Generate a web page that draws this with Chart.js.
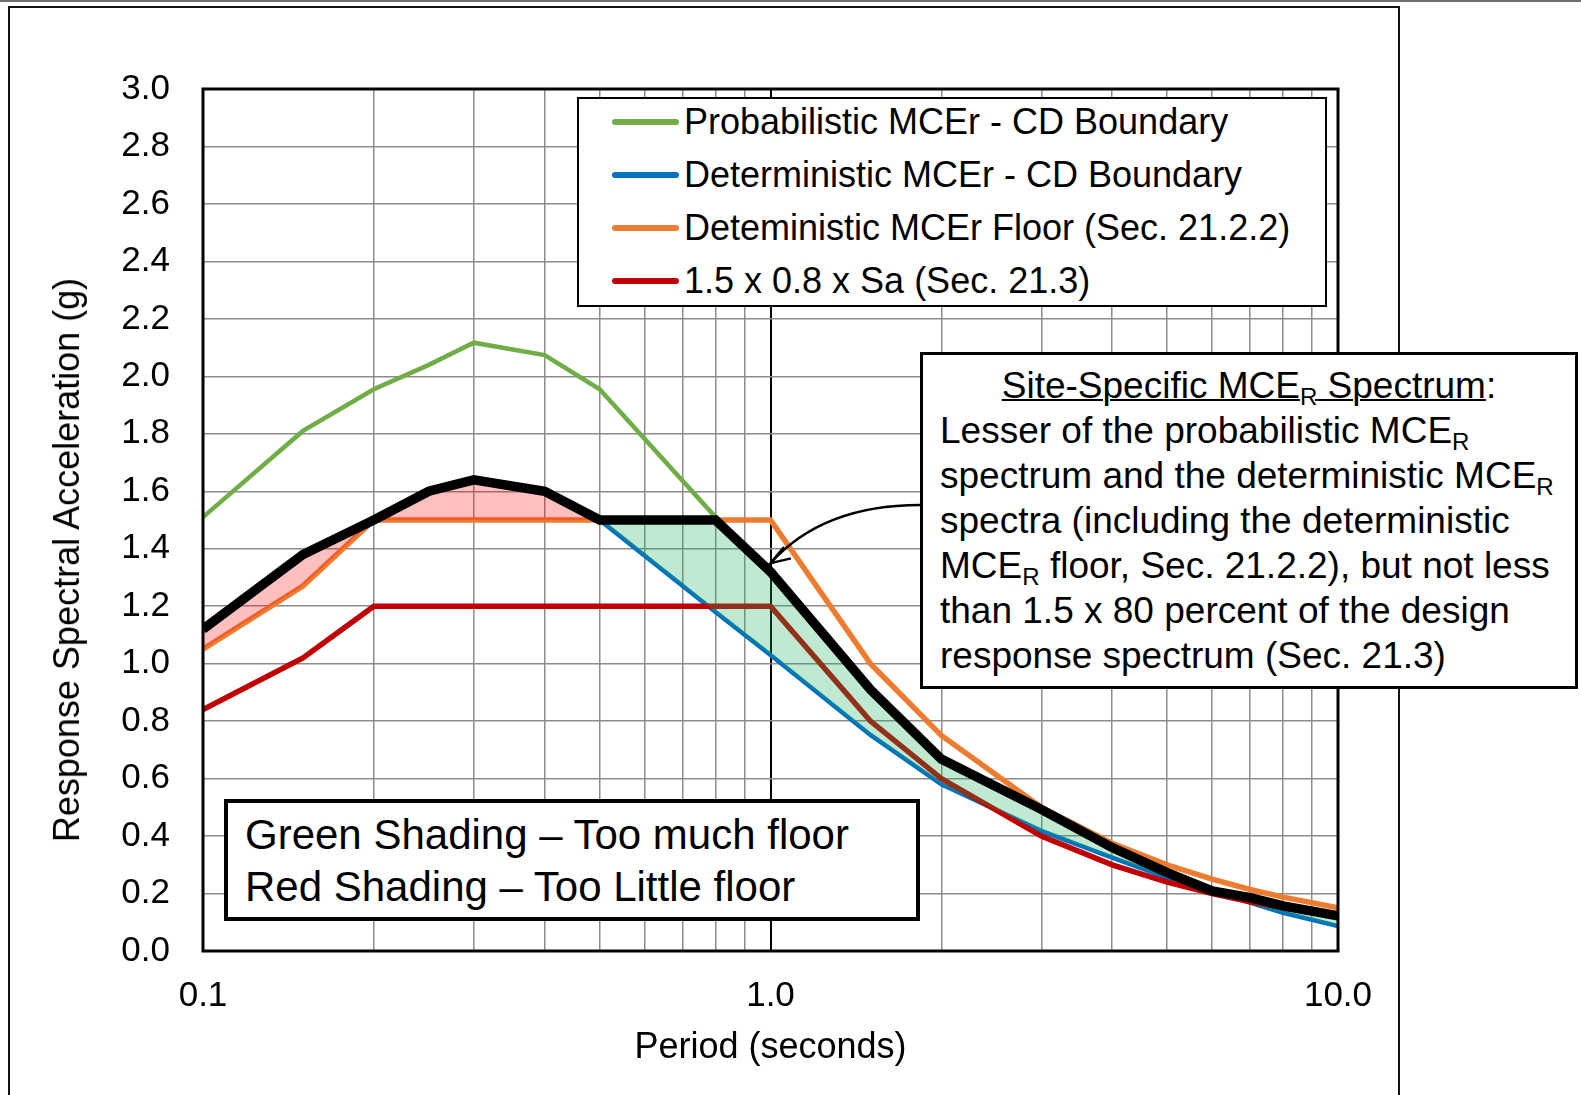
<!DOCTYPE html>
<html>
<head>
<meta charset="utf-8">
<script src="https://cdn.jsdelivr.net/npm/chart.js@4.4.1/dist/chart.umd.min.js"></script>
<style>
  body { margin: 0; background: #fff; font-family: 'Liberation Sans', Arial, sans-serif; }
  #pagina { position: relative; width: 1581px; height: 1095px; overflow: hidden; background: #fff; }
  #lineaSup { position: absolute; left: 0; top: 0; width: 1581px; height: 2px; background: #6e6e6e; }
  #marco { position: absolute; left: 8px; top: 6px; width: 1392px; height: 1200px; border: 2px solid #111; box-sizing: border-box; }
  #grafico { position: absolute; left: 0; top: 0; }
  .caja { position: absolute; background: #fff; box-sizing: border-box; color: #000; white-space: nowrap; }
  #leyenda { left: 577px; top: 97px; width: 750px; height: 210px; border: 2px solid #000; }
  .fila { position: absolute; left: 0; width: 100%; height: 40px; font-size: 36px; line-height: 40px; }
  .muestra { position: absolute; left: 33px; top: 17px; width: 67px; height: 6px; border-radius: 3px; }
  .fila .txt { position: absolute; left: 105px; }
  #nota { left: 920px; top: 352px; width: 658px; height: 337px; border: 3px solid #000;
          font-size: 37px; line-height: 45px; padding: 8px 0 0 17px; }
  #nota .titulo { text-align: center; margin-left: -17px; }
  #nota .sub { text-decoration: underline; text-decoration-thickness: 2px; }
  sub { font-size: 0.65em; vertical-align: -0.3em; line-height: 0; }
  #sombras { left: 224px; top: 799px; width: 696px; height: 122px; border: 4px solid #000;
             font-size: 42px; line-height: 52px; padding: 6px 0 0 17px; }
  #tituloY { position: absolute; left: 67px; top: 560px; font-size: 36px; white-space: nowrap;
             transform: translate(-50%, -50%) rotate(-90deg); }
</style>
</head>
<body>
<div id="pagina">
  <div id="lineaSup"></div>
  <div id="marco"></div>
  <canvas id="grafico" width="1581" height="1095"></canvas>
  <div id="tituloY">Response Spectral Acceleration (g)</div>
  <div id="leyenda" class="caja"></div>
  <div id="nota" class="caja">
    <div class="titulo"><span class="sub">Site-Specific MCE<sub>R</sub> Spectrum</span>:</div>
    <div>Lesser of the probabilistic MCE<sub>R</sub></div>
    <div>spectrum and the deterministic MCE<sub>R</sub></div>
    <div>spectra (including the deterministic</div>
    <div>MCE<sub>R</sub> floor, Sec. 21.2.2), but not less</div>
    <div>than 1.5 x 80 percent of the design</div>
    <div>response spectrum (Sec. 21.3)</div>
  </div>
  <div id="sombras" class="caja">
    <div>Green Shading – Too much floor</div>
    <div>Red Shading – Too Little floor</div>
  </div>
</div>
<script>
// periodos (s)
const periodos = [0.1, 0.15, 0.2, 0.25, 0.3, 0.4, 0.5, 0.8, 1.0, 1.5, 2, 3, 4, 5, 6, 7, 8, 10];

const probabilistico = [1.51, 1.81, 1.955, 2.04, 2.117, 2.074, 1.955, 1.51, 1.32, 0.91, 0.668, 0.493, 0.36, 0.273, 0.209, 0.186, 0.157, 0.122];
const deterministico = [1.12, 1.37, 1.50, 1.60, 1.64, 1.60, 1.50, 1.18, 1.03, 0.752, 0.58, 0.418, 0.325, 0.255, 0.21, 0.168, 0.133, 0.087];
const pisoDet = [1.05, 1.27, 1.50, 1.50, 1.50, 1.50, 1.50, 1.50, 1.50, 1.0, 0.75, 0.5, 0.375, 0.3, 0.25, 0.214, 0.1875, 0.15];
const sa120 = [0.84, 1.02, 1.20, 1.20, 1.20, 1.20, 1.20, 1.20, 1.20, 0.8, 0.6, 0.4, 0.3, 0.24, 0.2, 0.171, 0.15, 0.12];
const sitio = [1.12, 1.38, 1.50, 1.60, 1.64, 1.60, 1.50, 1.50, 1.32, 0.91, 0.668, 0.493, 0.36, 0.273, 0.209, 0.186, 0.157, 0.122];

const nombres = ['Probabilistic MCEr - CD Boundary', 'Deterministic MCEr - CD Boundary',
                 'Deteministic MCEr Floor (Sec. 21.2.2)', '1.5 x 0.8 x Sa (Sec. 21.3)'];
const colores = ['#70AD47', '#0070C0', '#ED7D31', '#C00000'];

const xTicks = [0.1, 0.2, 0.3, 0.4, 0.5, 0.6, 0.7, 0.8, 0.9, 1, 2, 3, 4, 5, 6, 7, 8, 9, 10];
const xEtiquetas = [0.1, 1, 10];
const yTicks = [0, 0.2, 0.4, 0.6, 0.8, 1.0, 1.2, 1.4, 1.6, 1.8, 2.0, 2.2, 2.4, 2.6, 2.8, 3.0];

const puntos = arr => periodos.map((t, i) => ({ x: t, y: arr[i] }));

Chart.defaults.font.family = "'Liberation Sans', Arial, sans-serif";
Chart.defaults.color = '#000';

// flecha de la nota al espectro
const flecha = {
  id: 'flecha',
  afterDraw(chart) {
    const { ctx, scales: { x, y } } = chart;
    const tx = x.getPixelForValue(1.0), ty = y.getPixelForValue(1.35);
    ctx.save();
    ctx.strokeStyle = '#000';
    ctx.lineWidth = 2.5;
    ctx.beginPath();
    ctx.moveTo(920, 505);
    ctx.quadraticCurveTo(823, 505, tx, ty);
    ctx.stroke();
    const L = 21;
    ctx.beginPath();
    ctx.moveTo(tx + L * Math.cos(-50 * Math.PI / 180), ty + L * Math.sin(-50 * Math.PI / 180));
    ctx.lineTo(tx, ty);
    ctx.lineTo(tx + L * Math.cos(-13 * Math.PI / 180), ty + L * Math.sin(-13 * Math.PI / 180));
    ctx.stroke();
    // marco del area de trazado
    const a = chart.chartArea;
    ctx.lineWidth = 3;
    ctx.strokeRect(a.left, a.top, a.right - a.left, a.bottom - a.top);
    ctx.restore();
  }
};

const sinBorde = { borderWidth: 0, borderColor: 'rgba(0,0,0,0)', pointRadius: 0 };

new Chart(document.getElementById('grafico'), {
  type: 'line',
  data: {
    datasets: [
      { label: 'Site-Specific', data: puntos(sitio), borderColor: '#000', borderWidth: 9.5, pointRadius: 0, fill: false },
      { label: 'rojo', data: puntos(sitio), ...sinBorde,
        fill: { target: 4, above: 'rgba(255,0,0,0.25)', below: 'rgba(0,0,0,0)' } },
      { label: 'verde', data: puntos(sitio), ...sinBorde,
        fill: { target: 5, above: 'rgba(30,175,95,0.28)', below: 'rgba(0,0,0,0)' } },
      { label: nombres[3], data: puntos(sa120), borderColor: colores[3], borderWidth: 5.5, pointRadius: 0, fill: false },
      { label: nombres[2], data: puntos(pisoDet), borderColor: colores[2], borderWidth: 5.5, pointRadius: 0, fill: false },
      { label: nombres[1], data: puntos(deterministico), borderColor: colores[1], borderWidth: 4.5, pointRadius: 0, fill: false },
      { label: nombres[0], data: puntos(probabilistico), borderColor: colores[0], borderWidth: 4.5, pointRadius: 0, fill: false }
    ]
  },
  options: {
    responsive: false,
    animation: false,
    devicePixelRatio: 1,
    layout: { padding: { top: 89, right: 243, left: 0, bottom: 0 } },
    plugins: { legend: { display: false }, tooltip: { enabled: false } },
    scales: {
      x: {
        type: 'logarithmic',
        min: 0.1,
        max: 10,
        afterBuildTicks: s => { s.ticks = xTicks.map(v => ({ value: v })); },
        afterFit: s => { s.height = 144; },
        border: { display: false },
        grid: {
          drawTicks: false,
          color: c => (c.tick && c.tick.value === 1 ? '#000' : '#8c8c8c'),
          lineWidth: c => (c.tick && c.tick.value === 1 ? 2 : 1.5)
        },
        ticks: {
          autoSkip: false,
          maxRotation: 0,
          padding: 24,
          font: { size: 35 },
          callback: v => (xEtiquetas.includes(v) ? v.toFixed(1) : '')
        },
        title: { display: true, text: 'Period (seconds)', font: { size: 36 }, padding: { top: 0, bottom: 25 } }
      },
      y: {
        min: 0,
        max: 3,
        afterBuildTicks: s => { s.ticks = yTicks.map(v => ({ value: v })); },
        afterFit: s => { s.width = 203; },
        border: { display: false },
        grid: { drawTicks: false, color: '#8c8c8c', lineWidth: 1.5 },
        ticks: { padding: 33, font: { size: 35 }, callback: v => v.toFixed(1) }
      }
    }
  },
  plugins: [flecha]
});

// leyenda
const leyenda = document.getElementById('leyenda');
nombres.forEach((n, i) => {
  const fila = document.createElement('div');
  fila.className = 'fila';
  fila.style.top = (3 + 53 * i) + 'px';
  const m = document.createElement('div');
  m.className = 'muestra';
  m.style.background = colores[i];
  const t = document.createElement('span');
  t.className = 'txt';
  t.textContent = n;
  fila.appendChild(m);
  fila.appendChild(t);
  leyenda.appendChild(fila);
});
</script>
</body>
</html>
